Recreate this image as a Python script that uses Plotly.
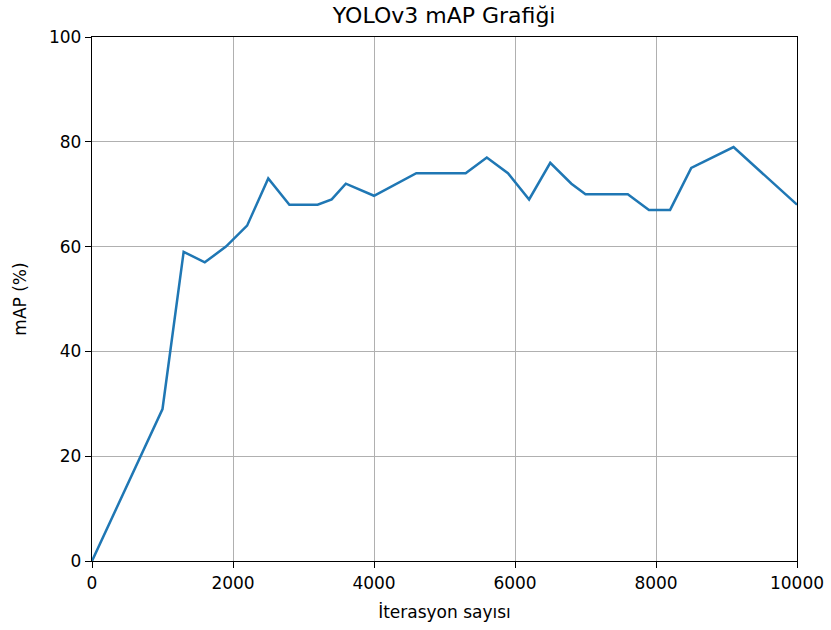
import plotly.graph_objects as go

iterations = [0, 1000, 1300, 1600, 1900, 2200, 2500, 2800, 3200, 3400, 3600, 4000,
              4600, 5300, 5600, 5900, 6200, 6500, 6800, 7000, 7600, 7900, 8200,
              8500, 9100, 10000]
map_values = [0, 29, 59, 57, 60, 64, 73, 68, 68, 69, 72, 69.7,
              74, 74, 77, 74, 69, 76, 72, 70, 70, 67, 67,
              75, 79, 68]

x_ticks = [0, 2000, 4000, 6000, 8000, 10000]
x_tick_labels = ["0", "2000", "4000", "6000", "8000", "10000"]
y_ticks = [0, 20, 40, 60, 80, 100]
y_tick_labels = ["0", "20", "40", "60", "80", "100"]

title_text = "YOLOv3 mAP Grafiği"
x_title = "İterasyon sayısı"
y_title = "mAP (%)"

font_family = "DejaVu Sans"

fig = go.Figure()
fig.add_trace(go.Scatter(
    x=iterations, y=map_values, mode="lines",
    line=dict(color="#1f77b4", width=2.5),
    showlegend=False,
))

axis_common = dict(
    showline=True, linecolor="black", linewidth=1.3, mirror=True,
    ticks="outside", ticklen=6, tickwidth=1.3, tickcolor="black",
    showgrid=True, gridcolor="#b0b0b0", gridwidth=1.2,
    zeroline=False, automargin=False,
    tickfont=dict(family=font_family, size=17, color="black"),
)

fig.update_layout(
    width=831, height=630,
    margin=dict(l=92, r=34, t=37, b=69),
    paper_bgcolor="white", plot_bgcolor="white",
    font=dict(family=font_family, color="black"),
    title=dict(text=title_text, x=0.5345, xanchor="center", y=0.975, yanchor="middle",
               font=dict(family=font_family, size=22, color="black")),
    xaxis=dict(range=[0, 10000], tickvals=x_ticks, ticktext=x_tick_labels,
               title=dict(text=x_title, font=dict(family=font_family, size=17), standoff=14),
               **axis_common),
    yaxis=dict(range=[0, 100], tickvals=y_ticks, ticktext=y_tick_labels,
               title=dict(text=y_title, font=dict(family=font_family, size=17), standoff=18),
               **axis_common),
)

fig.write_html("out.html")
